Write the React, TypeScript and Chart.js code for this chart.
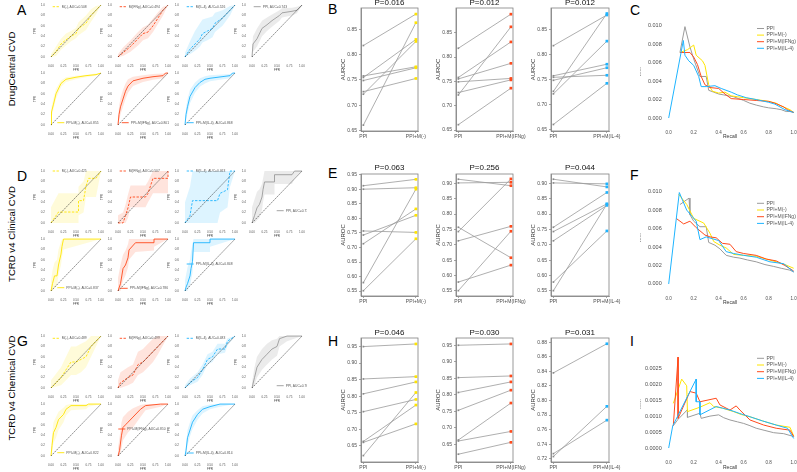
import React, { useEffect, useRef } from "react";
import { Chart, registerables } from "chart.js";

Chart.register(...registerables);

const FONT = '"Liberation Sans", Arial, Helvetica, sans-serif';
Chart.defaults.font.family = FONT;
Chart.defaults.color = "#4d4d4d";

const COL_PPI = "#9b9b9b";
const COL_M0 = "#FFE500";
const COL_IFN = "#FF4A1C";
const COL_IL4 = "#1EB4FF";

// ---------------- ROC data (FPR, TPR, band low, band high) ----------------
const rocXTicks = [0, 0.25, 0.5, 0.75, 1];
const rocYTicks = [0, 0.2, 0.4, 0.6, 0.8, 1];

const rocA_labels = ["M(-), AUC=0.508", "M(IFNg), AUC=0.494", "M(IL-4), AUC=0.526", "PPI, AUC=0.743", "PPI+M(-), AUC=0.855", "PPI+M(IFNg), AUC=0.801", "PPI+M(IL-4), AUC=0.868"];
const rocA_fpr = [
  [0, 0.1, 0.2, 0.3, 0.4, 0.5, 0.55, 0.7, 0.8, 0.9, 1],
  [0, 0.1, 0.25, 0.4, 0.5, 0.6, 0.7, 0.8, 0.9, 1],
  [0, 0.1, 0.2, 0.3, 0.35, 0.45, 0.55, 0.6, 0.75, 0.9, 1],
  [0, 0.02, 0.1, 0.2, 0.3, 0.4, 0.55, 0.6, 0.8, 0.9, 1],
  [0, 0.01, 0.05, 0.1, 0.2, 0.3, 0.5, 0.7, 0.9, 1],
  [0, 0.02, 0.05, 0.1, 0.15, 0.2, 0.3, 0.5, 0.7, 0.9, 0.95, 1],
  [0, 0.02, 0.05, 0.1, 0.2, 0.3, 0.4, 0.5, 0.9, 0.95, 1],
];
const rocA_tpr = [
  [0, 0.1, 0.25, 0.33, 0.4, 0.45, 0.55, 0.65, 0.8, 0.9, 1],
  [0, 0.08, 0.2, 0.35, 0.45, 0.48, 0.6, 0.75, 0.9, 1],
  [0, 0.15, 0.25, 0.35, 0.45, 0.5, 0.55, 0.65, 0.75, 0.9, 1],
  [0, 0.25, 0.35, 0.55, 0.62, 0.7, 0.8, 0.85, 0.88, 0.9, 1],
  [0, 0.25, 0.4, 0.6, 0.8, 0.88, 0.92, 0.95, 0.97, 1],
  [0, 0.2, 0.35, 0.5, 0.65, 0.75, 0.85, 0.9, 0.93, 0.95, 1, 1],
  [0, 0.2, 0.35, 0.55, 0.72, 0.82, 0.88, 0.9, 0.95, 1, 1],
];
const rocA_lo = [
  [0, 0.02, 0.14, 0.22, 0.3, 0.36, 0.42, 0.52, 0.68, 0.82, 1],
  [0, 0.02, 0.1, 0.22, 0.32, 0.36, 0.48, 0.64, 0.8, 1],
  [0, 0.05, 0.12, 0.2, 0.28, 0.32, 0.38, 0.48, 0.6, 0.8, 1],
  [0, 0.1, 0.2, 0.4, 0.5, 0.58, 0.7, 0.76, 0.8, 0.84, 1],
  [0, 0.15, 0.3, 0.5, 0.73, 0.83, 0.88, 0.92, 0.95, 1],
  [0, 0.08, 0.2, 0.35, 0.5, 0.62, 0.75, 0.83, 0.87, 0.9, 0.95, 1],
  [0, 0.1, 0.22, 0.42, 0.62, 0.74, 0.8, 0.84, 0.9, 0.96, 1],
];
const rocA_hi = [
  [0.05, 0.2, 0.35, 0.45, 0.5, 0.56, 0.67, 0.8, 0.92, 0.98, 1],
  [0.05, 0.18, 0.32, 0.48, 0.57, 0.62, 0.74, 0.86, 0.97, 1],
  [0.08, 0.3, 0.5, 0.65, 0.72, 0.75, 0.78, 0.85, 0.9, 0.98, 1],
  [0.1, 0.4, 0.55, 0.7, 0.76, 0.82, 0.9, 0.94, 0.95, 0.97, 1],
  [0.05, 0.35, 0.52, 0.7, 0.86, 0.92, 0.95, 0.97, 0.99, 1],
  [0.1, 0.35, 0.52, 0.68, 0.8, 0.88, 0.93, 0.96, 0.98, 0.99, 1, 1],
  [0.05, 0.32, 0.5, 0.68, 0.82, 0.9, 0.94, 0.96, 0.98, 1, 1],
];

const rocD_labels = ["M(-), AUC=0.425", "M(IFNg), AUC=0.507", "M(IL-4), AUC=0.463", "PPI, AUC=0.736", "PPI+M(-), AUC=0.837", "PPI+M(IFNg), AUC=0.786", "PPI+M(IL-4), AUC=0.848"];
const rocD_fpr = [
  [0, 0.15, 0.55, 0.55, 0.65, 0.7, 0.75, 0.9, 1],
  [0, 0.1, 0.15, 0.2, 0.25, 0.55, 0.6, 0.7, 1, 1],
  [0, 0.1, 0.15, 0.65, 0.7, 0.85, 0.9, 1],
  [0, 0.05, 0.1, 0.15, 0.2, 0.22, 0.25, 0.45, 0.45, 0.8, 0.85, 1],
  [0, 0.03, 0.07, 0.12, 0.15, 0.2, 0.22, 0.25, 1],
  [0, 0.05, 0.1, 0.15, 0.2, 0.22, 0.35, 0.72, 0.72, 1],
  [0, 0.02, 0.05, 0.1, 0.12, 0.15, 0.17, 0.5, 0.5, 1],
];
const rocD_tpr = [
  [0, 0.21, 0.21, 0.43, 0.43, 0.71, 0.86, 0.86, 1],
  [0, 0, 0.14, 0.29, 0.5, 0.5, 0.57, 0.86, 0.86, 1],
  [0, 0.14, 0.43, 0.43, 0.57, 0.64, 1, 1],
  [0, 0.14, 0.29, 0.36, 0.5, 0.64, 0.79, 0.79, 0.93, 0.93, 1, 1],
  [0, 0.14, 0.29, 0.29, 0.5, 0.71, 0.86, 1, 1],
  [0, 0.14, 0.43, 0.5, 0.64, 0.79, 0.93, 0.93, 1, 1],
  [0, 0.07, 0.14, 0.29, 0.43, 0.57, 0.93, 0.93, 1, 1],
];
const rocD_lo = [
  [0, 0, 0, 0.15, 0.2, 0.5, 0.5, 0.5, 1],
  [0, 0, 0, 0.1, 0.3, 0.3, 0.4, 0.57, 0.57, 1],
  [0, 0, 0, 0, 0.2, 0.3, 0.7, 1],
  [0, 0, 0.05, 0.1, 0.25, 0.4, 0.55, 0.55, 0.75, 0.75, 0.85, 1],
  [0, 0, 0.05, 0.1, 0.3, 0.5, 0.65, 0.8, 1],
  [0, 0, 0.2, 0.3, 0.45, 0.6, 0.75, 0.78, 0.85, 1],
  [0, 0, 0, 0.1, 0.2, 0.35, 0.75, 0.75, 0.85, 1],
];
const rocD_hi = [
  [0.3, 0.57, 0.57, 0.7, 0.8, 1, 1, 1, 1],
  [0.15, 0.2, 0.35, 0.55, 0.72, 0.72, 0.8, 1, 1, 1],
  [0.4, 0.7, 1, 1, 1, 1, 1, 1],
  [0.3, 0.45, 0.6, 0.65, 0.75, 0.85, 1, 1, 1, 1, 1, 1],
  [0.2, 0.4, 0.55, 0.6, 0.8, 0.95, 1, 1, 1],
  [0.25, 0.5, 0.7, 0.78, 0.9, 1, 1, 1, 1, 1],
  [0.2, 0.3, 0.45, 0.6, 0.75, 0.9, 1, 1, 1, 1],
];

const rocG_labels = ["M(-), AUC=0.489", "M(IFNg), AUC=0.499", "M(IL-4), AUC=0.483", "PPI, AUC=0.760", "PPI+M(-), AUC=0.822", "PPI+M(IFNg), AUC=0.810", "PPI+M(IL-4), AUC=0.814"];
const rocG_fpr = [
  [0, 0.2, 0.3, 0.4, 0.5, 0.6, 0.7, 0.8, 1],
  [0, 0.05, 0.2, 0.3, 0.4, 0.5, 0.6, 0.7, 0.8, 1],
  [0, 0.1, 0.25, 0.35, 0.45, 0.55, 0.65, 0.8, 0.85, 1],
  [0, 0.05, 0.1, 0.2, 0.3, 0.4, 0.5, 0.55, 0.7, 1],
  [0, 0.02, 0.05, 0.1, 0.15, 0.25, 0.3, 0.4, 0.7, 0.75, 1],
  [0, 0.03, 0.07, 0.1, 0.15, 0.2, 0.3, 0.45, 0.55, 0.85, 1],
  [0, 0.02, 0.05, 0.1, 0.15, 0.25, 0.35, 0.5, 0.7, 1],
];
const rocG_tpr = [
  [0, 0.2, 0.35, 0.5, 0.5, 0.55, 0.6, 0.8, 1],
  [0, 0.1, 0.2, 0.25, 0.45, 0.5, 0.6, 0.7, 0.8, 1],
  [0, 0.1, 0.2, 0.35, 0.55, 0.6, 0.75, 0.75, 0.9, 1],
  [0, 0.2, 0.4, 0.55, 0.65, 0.75, 0.8, 0.95, 1, 1],
  [0, 0.2, 0.45, 0.55, 0.7, 0.8, 0.9, 0.97, 0.97, 1, 1],
  [0, 0.1, 0.4, 0.55, 0.6, 0.65, 0.75, 0.9, 0.97, 1, 1],
  [0, 0.1, 0.35, 0.5, 0.65, 0.8, 0.9, 0.95, 1, 1],
];
const rocG_lo = [
  [0, 0.05, 0.15, 0.25, 0.25, 0.3, 0.4, 0.6, 1],
  [0, 0, 0.05, 0.1, 0.25, 0.3, 0.4, 0.5, 0.65, 1],
  [0, 0.05, 0.12, 0.25, 0.45, 0.5, 0.65, 0.68, 0.82, 1],
  [0, 0.05, 0.2, 0.35, 0.45, 0.55, 0.62, 0.8, 0.9, 1],
  [0, 0.05, 0.25, 0.35, 0.5, 0.65, 0.78, 0.88, 0.9, 0.95, 1],
  [0, 0, 0.15, 0.3, 0.38, 0.45, 0.55, 0.75, 0.88, 0.95, 1],
  [0, 0.02, 0.2, 0.38, 0.52, 0.7, 0.82, 0.9, 0.95, 1],
];
const rocG_hi = [
  [0.15, 0.4, 0.6, 0.8, 0.8, 0.85, 0.9, 1, 1],
  [0.15, 0.3, 0.4, 0.45, 0.7, 0.75, 0.85, 0.95, 1, 1],
  [0.05, 0.18, 0.3, 0.45, 0.65, 0.7, 0.85, 0.85, 0.96, 1],
  [0.1, 0.4, 0.6, 0.75, 0.85, 0.92, 0.95, 1, 1, 1],
  [0.1, 0.4, 0.65, 0.75, 0.85, 0.93, 0.98, 1, 1, 1, 1],
  [0.15, 0.35, 0.65, 0.75, 0.8, 0.85, 0.92, 0.98, 1, 1, 1],
  [0.05, 0.2, 0.5, 0.65, 0.78, 0.88, 0.96, 0.99, 1, 1],
];

// ---------------- Paired AUROC data ----------------
const pairCats = ["PPI", "PPI+M(-)", "PPI+M(IFNg)", "PPI+M(IL-4)"];

const B_ppi = [0.818, 0.758, 0.755, 0.749, 0.727, 0.722, 0.661];
const B_m0 = [0.880, 0.776, 0.830, 0.774, 0.753, 0.826, 0.863];
const B_ifn = [0.888, 0.831, 0.787, 0.756, 0.753, 0.862, 0.736];
const B_il4 = [0.879, 0.781, 0.759, 0.774, 0.882, 0.827, 0.743];
const B_pvals = ["P=0.016", "P=0.012", "P=0.012"];
const B_yTicks = [0.65, 0.70, 0.75, 0.80, 0.85];

const E_ppi = [0.913, 0.901, 0.757, 0.743, 0.713, 0.579, 0.551];
const E_m0 = [0.935, 0.906, 0.752, 0.811, 0.833, 0.901, 0.730];
const E_ifn = [0.892, 0.903, 0.658, 0.914, 0.760, 0.634, 0.744];
const E_il4 = [0.888, 0.898, 0.870, 0.833, 0.828, 0.745, 0.832];
const E_pvals = ["P=0.063", "P=0.256", "P=0.044"];
const E1_yTicks = [0.55, 0.60, 0.65, 0.70, 0.75, 0.80, 0.85, 0.90, 0.95];
const E23_yTicks = [0.55, 0.60, 0.65, 0.70, 0.75, 0.80, 0.85, 0.90];

const H_ppi = [0.950, 0.852, 0.807, 0.753, 0.663, 0.660, 0.620];
const H_m0 = [0.958, 0.859, 0.843, 0.790, 0.773, 0.716, 0.811];
const H_ifn = [0.954, 0.857, 0.839, 0.814, 0.775, 0.689, 0.656];
const H_ppi3 = [0.838, 0.727, 0.723];
const H_il4 = [0.878, 0.773, 0.792];
const H_pvals = ["P=0.046", "P=0.030", "P=0.031"];
const H12_yTicks = [0.65, 0.70, 0.75, 0.80, 0.85, 0.90, 0.95];
const H3_yTicks = [0.72, 0.74, 0.76, 0.78, 0.80, 0.82, 0.84, 0.86, 0.88];

// ---------------- Precision-recall data ----------------
const prSeries = ["PPI", "PPI+M(-)", "PPI+M(IFNg)", "PPI+M(IL-4)"];
const prXTicks = [0, 0.2, 0.4, 0.6, 0.8, 1.0];
const prCF_yTicks = [0, 0.002, 0.004, 0.006, 0.008, 0.010];
const prI_yTicks = [0, 0.0005, 0.001, 0.0015, 0.002, 0.0025];

const prC_recall = [
  [0.09, 0.13, 0.17, 0.20, 0.25, 0.30, 0.32, 0.36, 0.40, 0.44, 0.48, 0.52, 0.56, 0.60, 0.65, 0.70, 0.76, 0.80, 0.86, 0.90, 0.94, 0.97, 1.0],
  [0.09, 0.15, 0.20, 0.22, 0.27, 0.29, 0.32, 0.35, 0.40, 0.45, 0.50, 0.55, 0.60, 0.70, 0.80, 0.86, 0.90, 0.97, 1.0],
  [0.09, 0.17, 0.20, 0.23, 0.26, 0.29, 0.33, 0.40, 0.45, 0.50, 0.60, 0.70, 0.80, 0.85, 0.92, 0.95, 1.0],
  [0.0, 0.117, 0.13, 0.16, 0.20, 0.24, 0.26, 0.30, 0.37, 0.42, 0.50, 0.55, 0.62, 0.70, 0.80, 0.85, 0.93, 1.0],
];
const prC_precision = [
  [0.0071, 0.0099, 0.0077, 0.0064, 0.0045, 0.0045, 0.0030, 0.0028, 0.0026, 0.0025, 0.0024, 0.0023, 0.0021, 0.0019, 0.0016, 0.0014, 0.0012, 0.0011, 0.0010, 0.0009, 0.0007, 0.0007, 0.0006],
  [0.0071, 0.0074, 0.0079, 0.0068, 0.0062, 0.0057, 0.0036, 0.0029, 0.0027, 0.0028, 0.0024, 0.0023, 0.0022, 0.0020, 0.0018, 0.0016, 0.0013, 0.0009, 0.0006],
  [0.0071, 0.0071, 0.0066, 0.0058, 0.0045, 0.0036, 0.0033, 0.0032, 0.0026, 0.0021, 0.0020, 0.0019, 0.0018, 0.0016, 0.0012, 0.0009, 0.0006],
  [0.0, 0.0084, 0.0068, 0.0062, 0.0057, 0.0045, 0.0034, 0.0034, 0.0035, 0.0032, 0.0028, 0.0025, 0.0022, 0.0020, 0.0017, 0.0015, 0.0009, 0.0006],
];
const prF_recall = [
  [0.09, 0.163, 0.17, 0.20, 0.25, 0.30, 0.32, 0.37, 0.41, 0.46, 0.52, 0.57, 0.63, 0.70, 0.77, 0.84, 0.90, 0.97, 1.0],
  [0.08, 0.145, 0.20, 0.28, 0.33, 0.36, 0.41, 0.46, 0.52, 0.60, 0.70, 0.78, 0.86, 0.93, 1.0],
  [0.06, 0.12, 0.17, 0.22, 0.29, 0.33, 0.38, 0.43, 0.49, 0.54, 0.60, 0.70, 0.78, 0.86, 0.93, 1.0],
  [0.0, 0.085, 0.144, 0.22, 0.25, 0.30, 0.35, 0.40, 0.46, 0.52, 0.60, 0.70, 0.81, 0.92, 1.0],
];
const prF_precision = [
  [0.0086, 0.0093, 0.0075, 0.0068, 0.0062, 0.0062, 0.0045, 0.0042, 0.0038, 0.0031, 0.0029, 0.0028, 0.0026, 0.0024, 0.0021, 0.0019, 0.0017, 0.0015, 0.0013],
  [0.0097, 0.0086, 0.0071, 0.0066, 0.0055, 0.0046, 0.0042, 0.0039, 0.0032, 0.0031, 0.0030, 0.0027, 0.0024, 0.0021, 0.0017],
  [0.0071, 0.0065, 0.0068, 0.0061, 0.0053, 0.0051, 0.0050, 0.0044, 0.0043, 0.0035, 0.0033, 0.0031, 0.0027, 0.0025, 0.0020, 0.0014],
  [0.0, 0.0099, 0.0080, 0.0068, 0.0048, 0.0051, 0.0049, 0.0047, 0.0035, 0.0033, 0.0031, 0.0029, 0.0024, 0.0022, 0.0013],
];
const prI_recall = [
  [0.037, 0.075, 0.15, 0.15, 0.25, 0.26, 0.33, 0.40, 0.44, 0.49, 0.55, 0.60, 0.65, 0.70, 0.77, 0.84, 0.92, 1.0],
  [0.037, 0.104, 0.144, 0.15, 0.25, 0.33, 0.36, 0.43, 0.52, 0.58, 0.65, 0.75, 0.86, 0.97, 1.0],
  [0.037, 0.075, 0.075, 0.17, 0.22, 0.25, 0.38, 0.41, 0.49, 0.54, 0.57, 0.65, 0.76, 0.86, 0.97, 1.0],
  [0.0, 0.032, 0.22, 0.22, 0.25, 0.25, 0.38, 0.43, 0.49, 0.57, 0.65, 0.75, 0.86, 0.95, 1.0],
];
const prI_precision = [
  [0.0007, 0.0009, 0.0012, 0.00096, 0.00109, 0.00093, 0.0010, 0.00104, 0.00095, 0.00088, 0.00082, 0.00077, 0.0007, 0.00062, 0.00055, 0.00048, 0.00045, 0.00036],
  [0.0014, 0.00216, 0.00195, 0.00114, 0.00128, 0.00142, 0.0013, 0.00125, 0.00114, 0.00105, 0.00098, 0.00085, 0.00072, 0.00065, 0.00038],
  [0.0007, 0.00285, 0.00093, 0.00177, 0.00172, 0.00145, 0.00156, 0.00135, 0.00119, 0.00132, 0.00119, 0.00088, 0.00072, 0.00062, 0.00056, 0.00036],
  [0.0, 0.00069, 0.00216, 0.00145, 0.00145, 0.00104, 0.0013, 0.00125, 0.00119, 0.00108, 0.00098, 0.00085, 0.00072, 0.00062, 0.0003],
];

// ---------------- helpers ----------------
function hexA(hex: string, a: number) {
  const n = parseInt(hex.slice(1), 16);
  return `rgba(${(n >> 16) & 255},${(n >> 8) & 255},${n & 255},${a})`;
}

type Geo = { left: number; top: number; width: number; height: number; padding: any };

function geom(aL: number, aT: number, aR: number, aB: number, yW: number, xH: number, padR: number, padT: number): Geo {
  const left = Math.floor(aL - yW);
  const top = Math.floor(aT - padT);
  const right = Math.ceil(aR + padR);
  const bottom = Math.ceil(aB + xH);
  return {
    left, top, width: right - left, height: bottom - top,
    padding: { left: aL - yW - left, top: aT - top, right: right - aR, bottom: bottom - aB - xH },
  };
}

function extras(o: any) {
  return {
    id: "extras",
    afterDatasetsDraw(chart: any) {
      const { ctx, chartArea: a } = chart;
      ctx.save();
      if (o.box) {
        ctx.setLineDash([]);
        ctx.strokeStyle = o.box;
        ctx.lineWidth = 0.8;
        ctx.strokeRect(a.left, a.top, a.right - a.left, a.bottom - a.top);
      }
      if (o.title) {
        ctx.fillStyle = "#111";
        ctx.font = `${o.title.size}px ${FONT}`;
        ctx.textAlign = "center";
        ctx.textBaseline = "middle";
        ctx.fillText(o.title.text, (a.left + a.right) / 2, a.top - o.title.dy);
      }
      if (o.legend) {
        const L = o.legend;
        L.items.forEach((it: any, i: number) => {
          const x = a.left + L.dx;
          const y = a.top + L.dy + i * L.spacing;
          ctx.beginPath();
          ctx.setLineDash(it.dash || []);
          ctx.strokeStyle = it.color;
          ctx.lineWidth = L.lw;
          ctx.moveTo(x, y);
          ctx.lineTo(x + L.len, y);
          ctx.stroke();
          ctx.setLineDash([]);
          ctx.fillStyle = L.textColor;
          ctx.font = `${L.size}px ${FONT}`;
          ctx.textAlign = "left";
          ctx.textBaseline = "middle";
          ctx.fillText(it.text, x + L.len + L.gap, y);
        });
      }
      ctx.restore();
    },
  };
}

function mkAxis(o: any) {
  return {
    type: "linear",
    min: o.min,
    max: o.max,
    afterBuildTicks: (s: any) => { s.ticks = o.ticks.map((v: number) => ({ value: v })); },
    afterFit: (s: any) => {
      if (o.horizontal) s.height = o.fit; else s.width = o.fit;
      s.paddingTop = 0; s.paddingBottom = 0; s.paddingLeft = 0; s.paddingRight = 0;
    },
    ticks: {
      autoSkip: false, maxRotation: 0, minRotation: 0, padding: o.pad, color: o.color,
      font: { size: o.size }, callback: (v: any) => o.fmt(Number(v)),
    },
    grid: o.tickMarks
      ? { display: true, drawOnChartArea: false, drawTicks: true, tickLength: 2, color: o.border, lineWidth: 0.7 }
      : { display: false, drawTicks: false, tickLength: 0 },
    border: o.border ? { display: true, color: o.border, width: 0.8 } : { display: false },
    title: {
      display: !!o.title, text: o.title || "", color: o.titleColor || "#222",
      font: { size: o.titleSize || 5 }, padding: { top: o.titlePad || 0, bottom: o.titlePad || 0 },
    },
  };
}

function baseOptions(padding: any) {
  return {
    animation: false,
    responsive: false,
    devicePixelRatio: 1,
    events: [],
    layout: { padding },
    plugins: { legend: { display: false }, tooltip: { enabled: false }, title: { display: false } },
  };
}

function rocChart(fpr: number[], tpr: number[], lo: number[], hi: number[], color: string, dashed: boolean, label: string, lpos: number[], padding: any) {
  const pts = (ys: number[]) => fpr.map((x, i) => ({ x, y: ys[i] }));
  const dash = dashed ? [2.4, 1.4] : [];
  return {
    type: "line",
    data: {
      datasets: [
        { data: [{ x: 0, y: 0 }, { x: 1, y: 1 }], borderColor: "#111", borderWidth: 0.6, borderDash: [1.6, 1.2], pointRadius: 0, fill: false },
        { data: pts(tpr), borderColor: color, borderWidth: 0.9, borderDash: dash, pointRadius: 0, fill: false },
        { data: pts(hi), borderColor: "rgba(0,0,0,0)", borderWidth: 0, pointRadius: 0, fill: "+1", backgroundColor: hexA(color, color === COL_PPI ? 0.2 : 0.15) },
        { data: pts(lo), borderColor: "rgba(0,0,0,0)", borderWidth: 0, pointRadius: 0, fill: false },
      ],
    },
    options: {
      ...baseOptions(padding),
      scales: {
        x: mkAxis({ horizontal: true, min: -0.04, max: 1.04, ticks: rocXTicks, fmt: (v: number) => v.toFixed(2), size: 3, pad: 5, color: "#555", title: "FPR", titleSize: 3, titlePad: 0, titleColor: "#444", fit: 13 }),
        y: mkAxis({ horizontal: false, min: -0.04, max: 1.04, ticks: rocYTicks, fmt: (v: number) => v.toFixed(1), size: 3, pad: 4, color: "#555", title: "TPR", titleSize: 3, titlePad: 1.2, titleColor: "#444", fit: 17 }),
      },
    },
    plugins: [extras({ legend: { dx: lpos[0], dy: lpos[1], len: 7, gap: 2, size: 3.3, lw: 0.9, spacing: 0, textColor: "#555", items: [{ color, dash, text: label }] } })],
  };
}

function pairChart(left: number[], right: number[], color: string, xLabel: string, yMin: number, yMax: number, yTicks: number[], title: string, titleDy: number, padding: any) {
  const datasets = left.map((l, i) => ({
    data: [{ x: 0, y: l }, { x: 1, y: right[i] }],
    borderColor: "#9a9a9a", borderWidth: 0.8,
    pointRadius: [1.2, 1.9], pointStyle: "rect",
    pointBackgroundColor: ["#8a8a8a", color], pointBorderWidth: 0, fill: false,
  }));
  return {
    type: "line",
    data: { datasets },
    options: {
      ...baseOptions(padding),
      scales: {
        x: mkAxis({ horizontal: true, min: -0.045, max: 1.04, ticks: [0, 1], fmt: (v: number) => (v === 0 ? pairCats[0] : xLabel), size: 5, pad: 1, color: "#4d4d4d", title: "", fit: 11, tickMarks: true, border: "#808080" }),
        y: mkAxis({ horizontal: false, min: yMin, max: yMax, ticks: yTicks, fmt: (v: number) => v.toFixed(2), size: 5, pad: 2, color: "#4d4d4d", title: "AUROC", titleSize: 6, titlePad: 1, titleColor: "#333", fit: 22, tickMarks: true, border: "#808080" }),
      },
    },
    plugins: [extras({ box: "#808080", title: { text: title, size: 8, dy: titleDy } })],
  };
}

function prChart(recall: number[][], prec: number[][], yMin: number, yMax: number, yTicks: number[], dec: number, legendDy: number, legendSpacing: number, padding: any) {
  const colors = [COL_PPI, COL_M0, COL_IFN, COL_IL4];
  const datasets = [3, 2, 1, 0].map((k) => ({
    data: recall[k].map((r, i) => ({ x: r, y: prec[k][i] })),
    borderColor: colors[k], borderWidth: 1, pointRadius: 0, fill: false,
  }));
  return {
    type: "line",
    data: { datasets },
    options: {
      ...baseOptions(padding),
      scales: {
        x: mkAxis({ horizontal: true, min: -0.04, max: 1.02, ticks: prXTicks, fmt: (v: number) => v.toFixed(1), size: 4.5, pad: 7, color: "#4d4d4d", title: "Recall", titleSize: 5, titlePad: 0.5, titleColor: "#333", fit: 18 }),
        y: mkAxis({ horizontal: false, min: yMin, max: yMax, ticks: yTicks, fmt: (v: number) => v.toFixed(dec), size: 5.5, pad: 2, color: "#4d4d4d", title: "Precision", titleSize: 2.2, titlePad: 0, titleColor: "#444", fit: 24.7 }),
      },
    },
    plugins: [extras({ legend: { dx: 93.3, dy: legendDy, len: 7, gap: 2.5, size: 5, lw: 1, spacing: legendSpacing, textColor: "#555", items: prSeries.map((t, k) => ({ color: colors[k], text: t })) } })],
  };
}

function ChartCanvas({ g, make }: { g: Geo; make: (p: any) => any }) {
  const ref = useRef<HTMLCanvasElement | null>(null);
  useEffect(() => {
    if (!ref.current) return;
    const chart = new Chart(ref.current, make(g.padding));
    return () => chart.destroy();
  }, []);
  return (
    <canvas
      ref={ref}
      width={g.width}
      height={g.height}
      style={{ position: "absolute", left: g.left, top: g.top, width: g.width, height: g.height }}
    />
  );
}

// ---------------- layout ----------------
const rocCols = [51, 118, 185, 252];
const rocColors = [COL_M0, COL_IFN, COL_IL4, COL_PPI, COL_M0, COL_IFN, COL_IL4];
const rocDashed = [true, true, true, false, false, false, false];

const rocPanels = [
  { fpr: rocA_fpr, tpr: rocA_tpr, lo: rocA_lo, hi: rocA_hi, labels: rocA_labels, rows: [5, 73],
    legend: [[3.7, 3.7], [3.7, 3.7], [3.7, 3.7], [3.7, 3.7], [8.3, 51.7], [5.7, 51.7], [3.7, 51.7]] },
  { fpr: rocD_fpr, tpr: rocD_tpr, lo: rocD_lo, hi: rocD_hi, labels: rocD_labels, rows: [171, 239],
    legend: [[3.7, 2], [3.7, 2], [3.7, 2], [26.7, 41.7], [8.3, 50.7], [4.7, 51.3], [3.7, 27]] },
  { fpr: rocG_fpr, tpr: rocG_tpr, lo: rocG_lo, hi: rocG_hi, labels: rocG_labels, rows: [336, 404],
    legend: [[3.7, 4.3], [3.7, 4.3], [3.7, 4.3], [26.7, 51.7], [8.3, 50.7], [2.3, 27], [3.7, 51]] },
];

const pairColsX = [[361, 418], [456, 513], [551, 609]];
const pairColors = [COL_M0, COL_IFN, COL_IL4];

const pairRows = [
  { top: 8, bottom: 131, titleDy: 5, ppi: [B_ppi, B_ppi, B_ppi], right: [B_m0, B_ifn, B_il4], pvals: B_pvals,
    ranges: [[0.6494, 0.892], [0.648, 0.9007], [0.648, 0.893]], ticks: [B_yTicks, B_yTicks, B_yTicks] },
  { top: 174, bottom: 296, titleDy: 6, ppi: [E_ppi, E_ppi, E_ppi], right: [E_m0, E_ifn, E_il4], pvals: E_pvals,
    ranges: [[0.5328, 0.9534], [0.5337, 0.93], [0.5337, 0.93]], ticks: [E1_yTicks, E23_yTicks, E23_yTicks] },
  { top: 338, bottom: 462, titleDy: 5.7, ppi: [H_ppi, H_ppi, H_ppi3], right: [H_m0, H_ifn, H_il4], pvals: H_pvals,
    ranges: [[0.6006, 0.976], [0.5964, 0.972], [0.7155, 0.8859]], ticks: [H12_yTicks, H12_yTicks, H3_yTicks] },
];

const prPanels = [
  { top: 21.1, bottom: 122.6, recall: prC_recall, prec: prC_precision, range: [-0.0005, 0.0105], ticks: prCF_yTicks, dec: 3, legendY: 28.5, spacing: 6.6 },
  { top: 187, bottom: 288.6, recall: prF_recall, prec: prF_precision, range: [-0.0005, 0.0105], ticks: prCF_yTicks, dec: 3, legendY: 203.3, spacing: 6.7 },
  { top: 355.5, bottom: 452.8, recall: prI_recall, prec: prI_precision, range: [-0.00015, 0.0029], ticks: prI_yTicks, dec: 4, legendY: 358.3, spacing: 6.7 },
];

const rowTitles = [
  { text: "DrugCentral CVD", y: 69 },
  { text: "TCRD v4 Clinical CVD", y: 233.5 },
  { text: "TCRD v4 Chemical CVD", y: 388 },
];

const letters = [
  { t: "A", x: 17, y: 5 }, { t: "B", x: 328, y: 4 }, { t: "C", x: 630, y: 5 },
  { t: "D", x: 17, y: 171 }, { t: "E", x: 328, y: 168 }, { t: "F", x: 630, y: 170 },
  { t: "G", x: 17, y: 336 }, { t: "H", x: 328, y: 336 }, { t: "I", x: 630, y: 336 },
];

export default function App() {
  const els: any[] = [];

  rocPanels.forEach((p, pi) => {
    for (let i = 0; i < 7; i++) {
      const col = i < 4 ? i : i - 4;
      const row = i < 4 ? 0 : 1;
      const L = rocCols[col];
      const T = p.rows[row];
      const g = geom(L - 2, T - 2, L + 52, T + 54, 17, 13, 3, 2);
      els.push(
        <ChartCanvas key={`roc-${pi}-${i}`} g={g}
          make={(pad) => rocChart(p.fpr[i], p.tpr[i], p.lo[i], p.hi[i], rocColors[i], rocDashed[i], p.labels[i], p.legend[i], pad)} />
      );
    }
  });

  pairRows.forEach((r, ri) => {
    for (let c = 0; c < 3; c++) {
      const [aL, aR] = pairColsX[c];
      const g = geom(aL, r.top, aR, r.bottom, 22, 11, 15, 11);
      els.push(
        <ChartCanvas key={`pair-${ri}-${c}`} g={g}
          make={(pad) => pairChart(r.ppi[c], r.right[c], pairColors[c], pairCats[c + 1], r.ranges[c][0], r.ranges[c][1], r.ticks[c], r.pvals[c], r.titleDy, pad)} />
      );
    }
  });

  prPanels.forEach((p, pi) => {
    const g = geom(663.7, p.top, 796.2, p.bottom, 24.7, 18, 2, 4);
    els.push(
      <ChartCanvas key={`pr-${pi}`} g={g}
        make={(pad) => prChart(p.recall, p.prec, p.range[0], p.range[1], p.ticks, p.dec, p.legendY - p.top, p.spacing, pad)} />
    );
  });

  return (
    <div style={{ position: "absolute", left: 0, top: 0, width: 797, height: 472, overflow: "hidden", background: "#fff", fontFamily: FONT }}>
      {rowTitles.map((r) => (
        <div key={r.text} style={{ position: "absolute", left: 11, top: r.y, transform: "translate(-50%, -50%) rotate(-90deg)", whiteSpace: "nowrap", fontSize: 9.6, lineHeight: "11px", color: "#000" }}>
          {r.text}
        </div>
      ))}
      {letters.map((l) => (
        <div key={l.t} style={{ position: "absolute", left: l.x, top: l.y - 1.8, fontSize: 14, lineHeight: "14px", color: "#000" }}>
          {l.t}
        </div>
      ))}
      {els}
    </div>
  );
}
